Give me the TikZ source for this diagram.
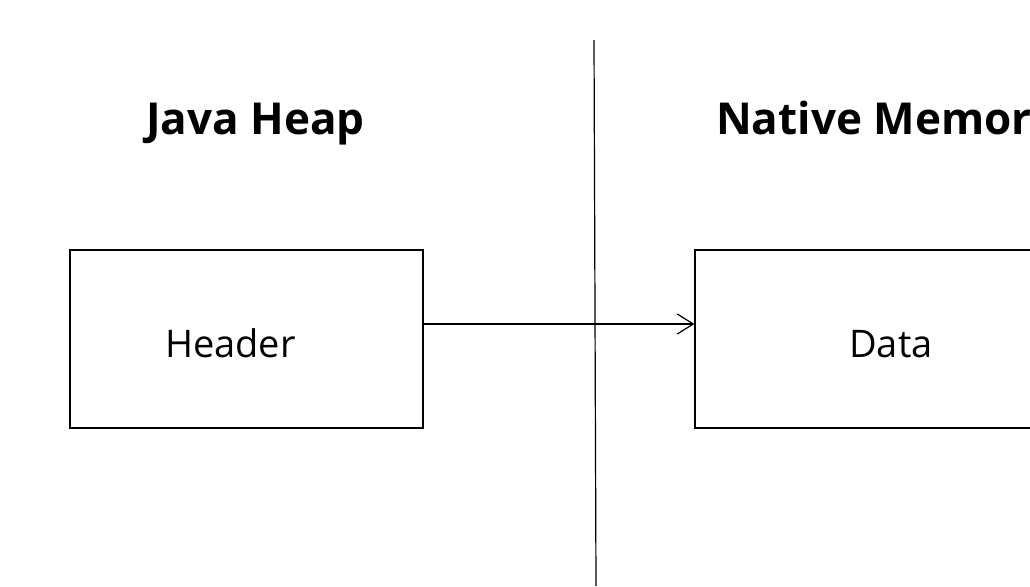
\documentclass[tikz,border=0pt]{standalone}
\usepackage{fontspec}
\setmainfont{Open Sans}
\usetikzlibrary{arrows.meta}
\begin{document}
\begin{tikzpicture}[x=1pt,y=-1pt,
  box/.style={draw=black,line width=1.2pt,minimum width=353pt,minimum height=178pt,inner sep=0pt},
  title/.style={font=\bfseries\fontsize{44}{52}\selectfont,anchor=base west,inner sep=0pt},
  label/.style={font=\fontsize{38}{46}\selectfont,anchor=base west,inner sep=0pt},
  conn/.style={draw=black,line width=1.2pt,-{Straight Barb[length=16pt,width=20pt,line width=1.2pt]}}]
\useasboundingbox (0,0) rectangle (1030,586);
\clip (0,0) rectangle (1030,586);
\fill[white] (0,0) rectangle (1030,586);
\node[title] (jh) at (146,134) {Java Heap};
\node[title] (nm) at (716,134) {Native Memory};
\coordinate (vt) at (594,40);
\coordinate (vb) at (596,586);
\draw[line width=1.2pt] (vt) -- (vb);
\node[box] (hdr) at (246.5,339) {};
\node[box] (dat) at (871.5,339) {};
\node[label] (ht) at (165,357) {Header};
\node[label] (dt) at (849,357) {Data};
\draw[conn] (hdr.east |- 0,324) coordinate (as) -- (dat.west |- as);
\end{tikzpicture}
\end{document}
